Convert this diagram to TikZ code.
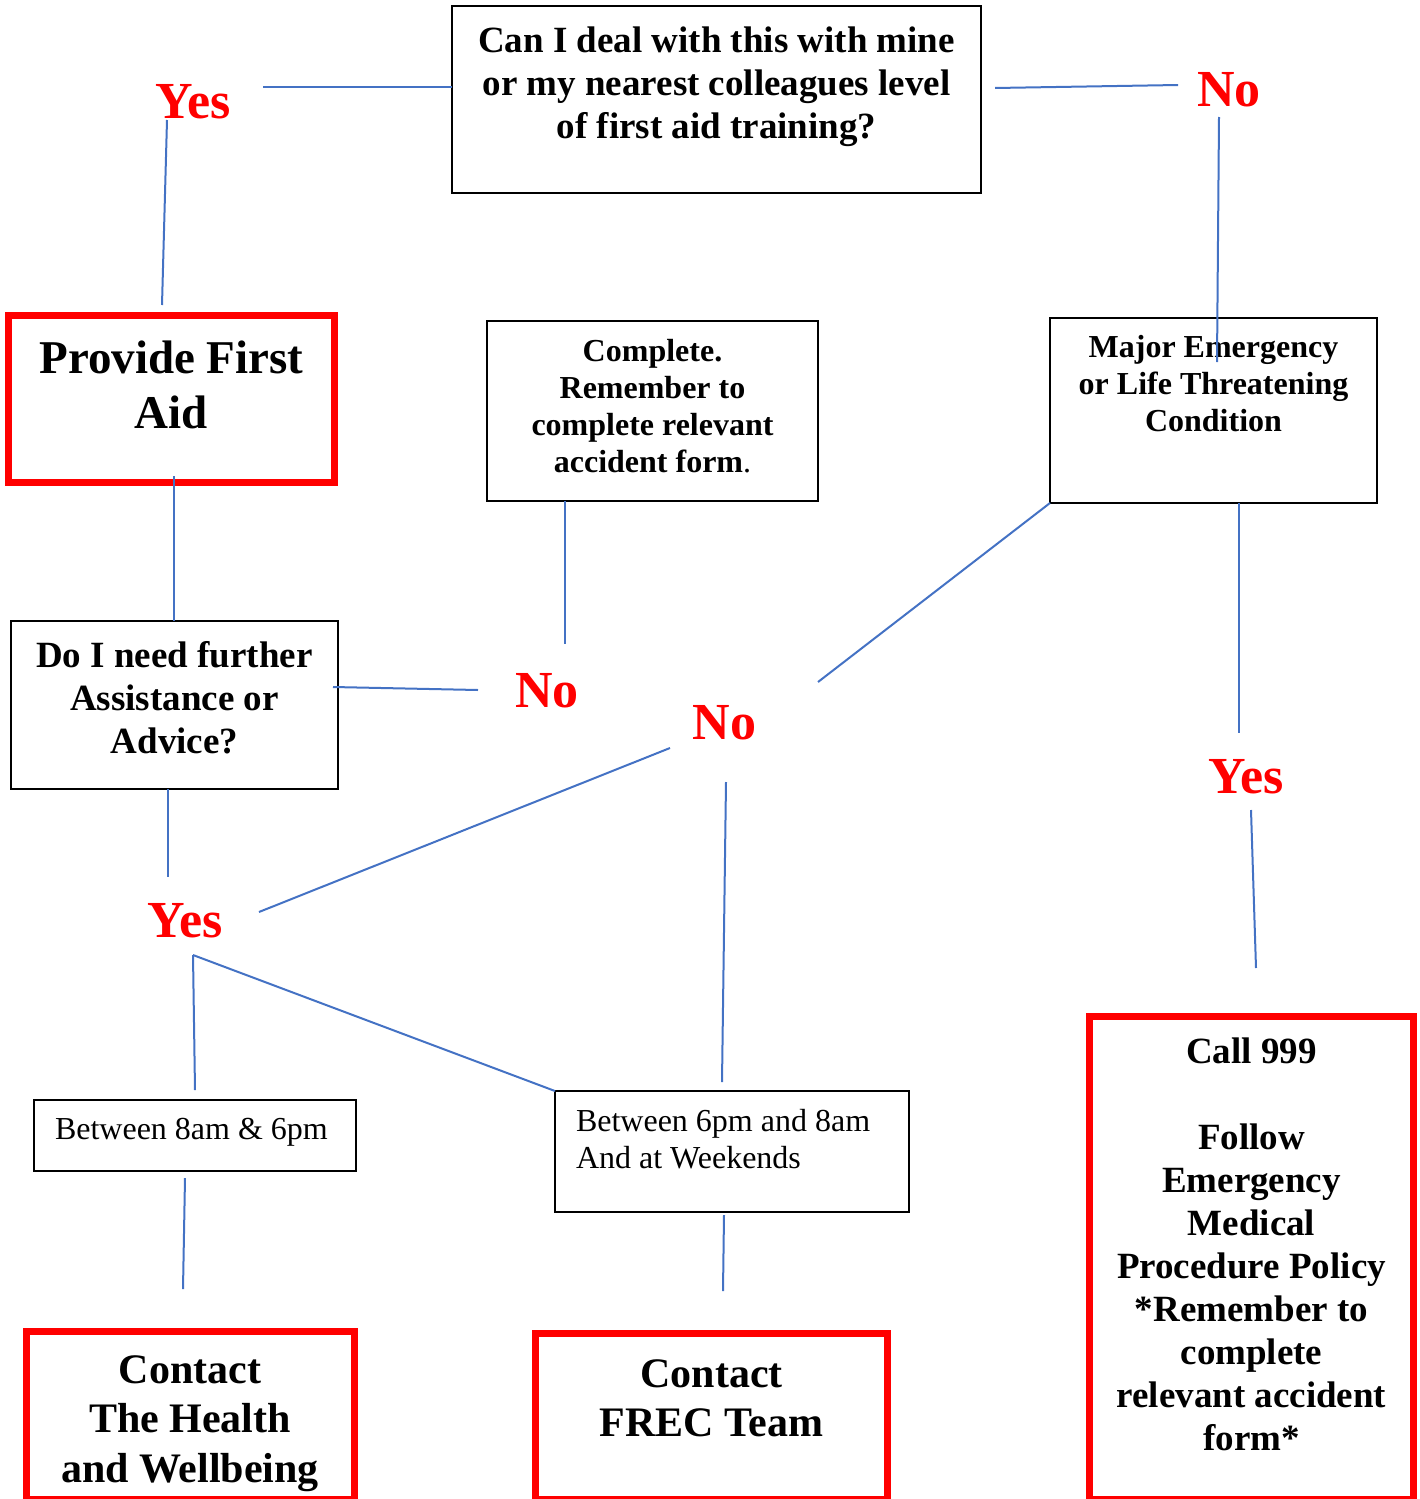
\documentclass[tikz,border=0pt]{standalone}
\usepackage{fontspec}
\setmainfont{Liberation Serif}
\definecolor{linkblue}{HTML}{4472C4}
\newcommand{\qfont}{\fontsize{37}{43}\selectfont\bfseries}
\newcommand{\smallqfont}{\fontsize{32}{37}\selectfont\bfseries}
\newcommand{\timefont}{\fontsize{32}{37}\selectfont}
\newcommand{\bigfont}{\fontsize{47}{55}\selectfont\bfseries}
\newcommand{\contactfont}{\fontsize{42}{49.5}\selectfont\bfseries}
\newcommand{\answerfont}{\fontsize{52}{60}\selectfont\bfseries}
% box text: font, width, height, top gap, lines
\newcommand{\boxtext}[5]{\begin{minipage}[t][#3pt][t]{#2pt}#1\vspace*{#4pt}\centering\strut #5\end{minipage}}
\newcommand{\lboxtext}[5]{\begin{minipage}[t][#3pt][t]{#2pt}#1\vspace*{#4pt}\raggedright\leftskip=21pt\strut #5\end{minipage}}
\tikzset{
    link/.style={draw=linkblue, line width=2pt},
    qbox/.style={draw=black, line width=2pt, inner sep=0pt, outer sep=0pt, anchor=north west},
    actbox/.style={draw=red, line width=7pt, inner sep=0pt, outer sep=0pt, anchor=north west},
    answer/.style={text=red, font=\answerfont, inner sep=0pt, anchor=base},
}

\begin{document}
\begin{tikzpicture}[x=1pt, y=-1pt]
\useasboundingbox (0,0) rectangle (1419,1499);
\clip (0,0) rectangle (1419,1499);
% boxes
\node[qbox] (q1) at (452,6) {\boxtext{\qfont}{529}{187}{16}{Can I deal with this with mine\\or my nearest colleagues level\\of first aid training?}};
\node[actbox] (aid) at (8.5,315.5) {\boxtext{\bigfont}{326}{167}{19}{Provide First\\Aid}};
\node[qbox] (complete) at (487,321) {\boxtext{\smallqfont}{331}{180}{15}{Complete.\\Remember to\\complete relevant\\accident form\textmd{.}}};
\node[qbox] (major) at (1050,318) {\boxtext{\smallqfont}{327}{185}{14}{Major Emergency\\or Life Threatening\\Condition}};
\node[qbox] (further) at (11,621) {\boxtext{\qfont}{327}{168}{16}{Do I need further\\Assistance or\\Advice?}};
\node[qbox] (day) at (34,1100) {\lboxtext{\timefont}{322}{71}{14}{Between 8am \& 6pm}};
\node[qbox] (night) at (555,1091) {\lboxtext{\timefont}{354}{121}{15}{Between 6pm and 8am\\And at Weekends}};
\node[actbox] (health) at (26,1331) {\boxtext{\contactfont}{328}{168}{17.5}{Contact\\The Health\\and Wellbeing}};
\node[actbox] (frec) at (535.5,1333.5) {\boxtext{\contactfont}{352}{165.5}{19}{Contact\\FREC Team}};
\node[actbox] (call) at (1089.5,1016.5) {\boxtext{\qfont}{324}{482.5}{16.5}{Call 999\\[43pt]Follow\\Emergency\\Medical\\Procedure Policy\\{}*Remember to\\complete\\relevant accident\\form*}};
% answers
\node[answer] (yes1) at (193,118) {Yes};
\node[answer] (no1) at (1229,106) {No};
\node[answer] (no2) at (547,707) {No};
\node[answer] (no3) at (724.5,739) {No};
\node[answer] (yes2) at (185,937) {Yes};
\node[answer] (yes3) at (1246,793) {Yes};
% free connector ends
\coordinate (yes1-e) at (263,87);
\coordinate (q1-e) at (995,88);
\coordinate (no1-w) at (1178,85);
\coordinate (yes1-s) at (167,120);
\coordinate (aid-n) at (162,305);
\coordinate (no1-s) at (1219,117);
\coordinate (major-n) at (1217,362);
\coordinate (aid-s) at (174,476);
\coordinate (further-e) at (333,687);
\coordinate (no2-w) at (478,690);
\coordinate (no2-n) at (565,644);
\coordinate (no3-ne) at (818,682);
\coordinate (no3-sw) at (670,748);
\coordinate (yes2-ne) at (259,912);
\coordinate (no3-s) at (726,782);
\coordinate (night-n) at (722,1082);
\coordinate (yes3-n) at (1239,733);
\coordinate (yes3-s) at (1251,810);
\coordinate (call-n) at (1256,968);
\coordinate (yes2-n) at (168,877);
\coordinate (yes2-s) at (193,955);
\coordinate (day-n) at (195,1090);
\coordinate (day-s) at (185,1178);
\coordinate (health-n) at (183,1289);
\coordinate (night-s) at (724,1215);
\coordinate (frec-n) at (723,1291);
% connectors
\draw[link] (yes1-e) -- (yes1-e -| q1.west);
\draw[link] (q1-e) -- (no1-w);
\draw[link] (yes1-s) -- (aid-n);
\draw[link] (no1-s) -- (major-n);
\draw[link] (aid-s) -- (aid-s |- further.north);
\draw[link] (further-e) -- (no2-w);
\draw[link] (complete.south -| no2-n) -- (no2-n);
\draw[link] (major.south west) -- (no3-ne);
\draw[link] (no3-sw) -- (yes2-ne);
\draw[link] (no3-s) -- (night-n);
\draw[link] (major.south -| yes3-n) -- (yes3-n);
\draw[link] (yes3-s) -- (call-n);
\draw[link] (further.south -| yes2-n) -- (yes2-n);
\draw[link] (yes2-s) -- (day-n);
\draw[link] (yes2-s) -- (night.north west);
\draw[link] (day-s) -- (health-n);
\draw[link] (night-s) -- (frec-n);
\end{tikzpicture}
\end{document}
